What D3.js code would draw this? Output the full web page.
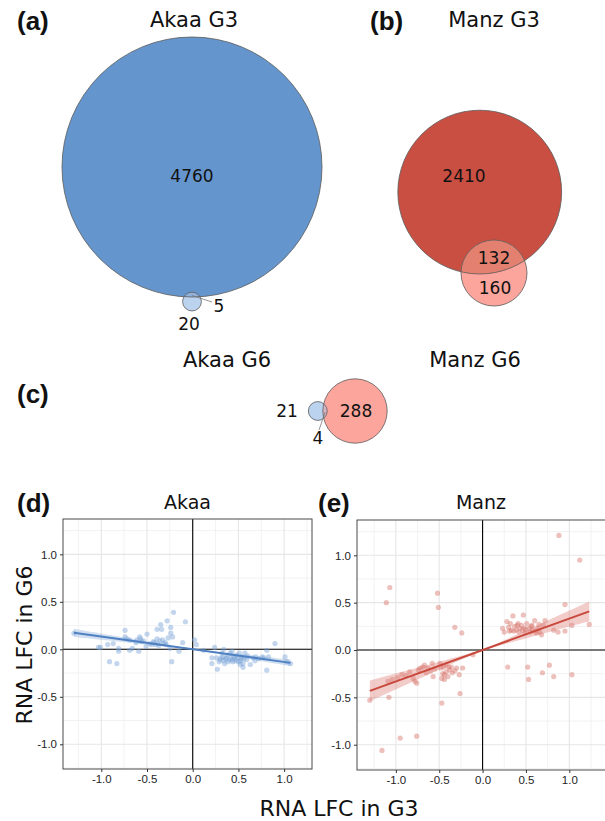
<!DOCTYPE html>
<html><head><meta charset="utf-8">
<script src="https://cdn.jsdelivr.net/npm/d3@7"></script>
<style>body{margin:0;background:#fff} svg{display:block}</style>
</head><body>
<svg id="chart" width="605" height="821"></svg>
<script>
// ---------------- DATA ----------------
// Venn counts: [first-only, overlap, second-only]
const vennA_labels = ["Akaa G3", "Akaa G6"];
const vennA_counts = [4760, 5, 20];
const vennB_labels = ["Manz G3", "Manz G6"];
const vennB_counts = [2410, 132, 160];
const vennC_labels = ["Akaa G6", "Manz G6"];
const vennC_counts = [21, 4, 288];

const panelLetters = ["(a)", "(b)", "(c)", "(d)", "(e)"];
const scatterTitles = ["Akaa", "Manz"];
const xAxisTitle = "RNA LFC in G3";
const yAxisTitle = "RNA LFC in G6";
const tickValues = [-1.0, -0.5, 0.0, 0.5, 1.0];
const minorValues = [-1.25, -0.75, -0.25, 0.25, 0.75, 1.25];

const akaaX = [-1.30,-1.03,-1.01,-0.93,-0.87,-0.91,-0.83,-0.81,-0.81,-0.74,-0.74,-0.72,-0.69,-0.69,-0.66,-0.61,-0.59,-0.58,-0.57,-0.56,-0.50,-0.51,-0.47,-0.45,-0.43,-0.41,-0.39,-0.39,-0.38,-0.37,-0.35,-0.34,-0.33,-0.32,-0.29,-0.28,-0.27,-0.25,-0.24,-0.24,-0.23,-0.22,-0.21,-0.15,-0.11,-0.08,0.02,0.04,0.12,0.21,0.21,0.24,0.26,0.27,0.29,0.31,0.32,0.34,0.34,0.35,0.37,0.38,0.40,0.41,0.42,0.43,0.44,0.45,0.46,0.48,0.50,0.51,0.52,0.53,0.54,0.55,0.55,0.57,0.59,0.63,0.66,0.68,0.69,0.72,0.76,0.78,0.81,0.81,0.83,0.90,1.01,1.03,1.07,0.30,0.36,0.39,0.43,0.47,0.49,0.52,0.56,0.60,0.33,-0.42,-0.36,-0.30,-0.62,-0.54];
const akaaY = [0.17,0.02,0.02,0.05,0.06,-0.13,-0.15,0.01,-0.02,0.20,0.13,0.11,0.10,-0.01,0.01,0.10,-0.02,0.13,0.11,0.08,0.16,0.03,0.06,0.05,0.08,0.05,0.11,0.21,0.06,0.04,0.26,0.21,0.10,0.06,0.05,0.30,0.12,0.01,0.17,0.23,-0.13,0.13,0.39,-0.02,0.07,0.29,0.10,0.05,-0.01,-0.09,-0.15,0.02,-0.09,-0.21,-0.13,-0.09,-0.04,0.00,-0.12,-0.15,-0.09,-0.06,-0.11,-0.04,-0.09,-0.02,-0.13,-0.08,-0.10,-0.06,-0.13,-0.04,-0.16,-0.10,-0.08,-0.15,-0.19,-0.04,-0.11,-0.16,-0.09,-0.12,-0.08,-0.10,-0.08,-0.09,-0.01,-0.22,-0.08,0.06,-0.08,-0.13,-0.15,-0.11,-0.10,-0.13,-0.11,-0.12,-0.09,-0.12,-0.10,-0.07,-0.08,0.07,0.09,0.07,0.07,0.09];

const manzX = [-1.30,-1.09,-1.08,-1.11,-1.07,-1.16,-0.95,-0.76,-1.04,-0.93,-0.84,-0.80,-0.78,-0.76,-0.74,-0.72,-0.69,-0.67,-0.63,-0.58,-0.57,-0.52,-0.51,-0.49,-0.48,-0.47,-0.47,-0.46,-0.45,-0.44,-0.44,-0.42,-0.42,-0.40,-0.38,-0.36,-0.32,-0.32,-0.30,-0.27,-0.26,-0.24,-0.23,-0.11,0.23,0.25,0.28,0.29,0.30,0.32,0.33,0.35,0.37,0.39,0.41,0.43,0.45,0.47,0.48,0.49,0.51,0.52,0.53,0.54,0.55,0.57,0.58,0.60,0.62,0.64,0.66,0.68,0.69,0.70,0.72,0.77,0.82,0.82,0.87,0.88,0.95,0.95,1.03,1.03,1.12,1.23,-0.55,-0.60,-0.65,-0.88,-0.98,0.36,0.42,0.46,0.50,0.56,0.61,0.65,0.40,0.31,-0.35,-0.39];
const manzY = [-0.53,-0.33,-0.50,0.50,0.66,-1.06,-0.93,-0.91,-0.31,-0.26,-0.23,-0.30,-0.33,-0.35,-0.21,-0.19,-0.18,-0.16,-0.19,-0.14,-0.28,0.60,0.45,-0.14,-0.19,-0.30,-0.56,-0.25,-0.18,-0.26,-0.31,-0.23,-0.16,-0.28,-0.21,-0.18,0.24,-0.22,-0.19,-0.26,-0.46,0.18,-0.19,-0.05,0.23,0.19,0.30,-0.18,0.24,0.28,0.21,0.36,0.25,0.21,0.28,0.23,0.26,0.37,0.23,0.18,0.28,-0.18,-0.31,0.23,0.19,0.26,0.21,0.31,0.18,0.23,0.19,0.16,-0.24,0.26,0.31,-0.16,0.21,-0.28,0.19,1.21,0.20,0.48,0.26,-0.26,0.95,0.27,-0.20,-0.22,-0.24,-0.27,-0.29,0.20,0.19,0.21,0.22,0.25,0.20,0.27,0.26,0.20,-0.24,-0.18];

// ---------------- SETUP ----------------
const svg = d3.select("#chart");
const FONT = "'DejaVu Sans', Verdana, sans-serif";
const BOLD = "'Liberation Sans', Arial, sans-serif";
const AXF = "'Liberation Sans', Arial, sans-serif";
const defs = svg.append("defs");

const letterPos = [[17, 30], [370, 30], [17, 403], [17, 512], [318, 512]];
panelLetters.forEach((t, i) => {
  svg.append("text").attr("x", letterPos[i][0]).attr("y", letterPos[i][1])
    .attr("font-family", BOLD).attr("font-weight", "bold").attr("font-size", 26)
    .attr("fill", "#111").text(t);
});

// ---------------- VENN ----------------
// area-proportional radius scale (panels a, c); panel b is drawn more compressed
const rScale = d3.scaleSqrt().domain([0, 4765]).range([0, 130]);
const rScaleB = d3.scalePow().exponent(0.42).domain([0, 292]).range([0, 33]);

function lensArea(r1, r2, d) {
  if (d >= r1 + r2) return 0;
  if (d <= Math.abs(r1 - r2)) return Math.PI * Math.min(r1, r2) ** 2;
  const a1 = r1 * r1 * Math.acos((d * d + r1 * r1 - r2 * r2) / (2 * d * r1));
  const a2 = r2 * r2 * Math.acos((d * d + r2 * r2 - r1 * r1) / (2 * d * r2));
  const k = 0.5 * Math.sqrt((-d + r1 + r2) * (d + r1 - r2) * (d - r1 + r2) * (d + r1 + r2));
  return a1 + a2 - k;
}
function solveDist(r1, r2, area) {
  let lo = Math.abs(r1 - r2), hi = r1 + r2;
  for (let i = 0; i < 60; i++) {
    const mid = (lo + hi) / 2;
    if (lensArea(r1, r2, mid) > area) lo = mid; else hi = mid;
  }
  return (lo + hi) / 2;
}

let clipId = 0;
function drawVenn(counts, scale, c1, angleDeg, fills, anchorSecond) {
  const r1 = scale(counts[0] + counts[1]);
  const r2 = scale(counts[2] + counts[1]);
  // overlap as the same fraction of the second (smaller) set's disc
  const area = counts[1] / (counts[2] + counts[1]) * Math.PI * r2 * r2;
  const d = solveDist(r1, r2, area);
  const a = angleDeg * Math.PI / 180;
  let p1, p2;
  if (anchorSecond) { p2 = c1; p1 = [p2[0] - d * Math.cos(a), p2[1] - d * Math.sin(a)]; }
  else { p1 = c1; p2 = [p1[0] + d * Math.cos(a), p1[1] + d * Math.sin(a)]; }
  const g = svg.append("g");
  g.append("circle").attr("cx", p1[0]).attr("cy", p1[1]).attr("r", r1).attr("fill", fills[0]);
  g.append("circle").attr("cx", p2[0]).attr("cy", p2[1]).attr("r", r2).attr("fill", fills[1]);
  const id = "vclip" + (clipId++);
  defs.append("clipPath").attr("id", id).append("circle").attr("cx", p1[0]).attr("cy", p1[1]).attr("r", r1);
  g.append("circle").attr("cx", p2[0]).attr("cy", p2[1]).attr("r", r2).attr("fill", fills[2])
    .attr("clip-path", `url(#${id})`);
  [[p1, r1], [p2, r2]].forEach(([p, r]) => g.append("circle").attr("cx", p[0]).attr("cy", p[1]).attr("r", r)
    .attr("fill", "none").attr("stroke", "#5a5a5a").attr("stroke-width", 0.8));
  return { p1, p2, r1, r2, d };
}
function vText(x, y, t, size) {
  svg.append("text").attr("x", x).attr("y", y).attr("text-anchor", "middle")
    .attr("dominant-baseline", "central").attr("font-family", FONT)
    .attr("font-size", size || 17).attr("fill", "#111").text(t);
}
function leader(x1, y1, x2, y2) {
  svg.append("line").attr("x1", x1).attr("y1", y1).attr("x2", x2).attr("y2", y2)
    .attr("stroke", "#777").attr("stroke-width", 0.8);
}
function title(x, y, t) {
  svg.append("text").attr("x", x).attr("y", y).attr("text-anchor", "middle").attr("font-family", FONT)
    .attr("font-size", 21).attr("fill", "#111").text(t);
}

// (a)
const va = drawVenn(vennA_counts, rScale, [192, 167], 90, ["#6595cd", "#bcd3ef", "#8fb1dc"], false);
title(194, 27, vennA_labels[0]);
vText(192, 176, vennA_counts[0]);
vText(189, 324, vennA_counts[2]);
leader(va.p2[0], va.p2[1] - 6, 212, 302);
vText(219, 306, vennA_counts[1]);

// (b)
const vb = drawVenn(vennB_counts, rScaleB, [494, 273], 80, ["#c94f43", "#fca59c", "#e3806f"], true);
title(494, 27, vennB_labels[0]);
vText(464, 176, vennB_counts[0]);
vText(494, 258, vennB_counts[1]);
vText(495, 288, vennB_counts[2]);

// (c)
title(227, 367, vennA_labels[1]);
title(475, 367, vennB_labels[1]);
const vc = drawVenn([vennC_counts[2], vennC_counts[1], vennC_counts[0]], rScale, [355, 411], 180, ["#fca59c", "#bcd3ef", "#d9b4c4"], false);
vText(287, 411, vennC_counts[0]);
vText(356, 411, vennC_counts[2]);
leader(vc.p2[0] + vc.r2 - 2, 412, 319, 430);
vText(318, 438, vennC_counts[1]);

// ---------------- SCATTER ----------------
function drawScatter(opts) {
  const { xs, ys, xDom, yDom, left, right, top, bottom, title, ptColor, lineColor, bandColor, bandOpacity, ptOpacity } = opts;
  const x = d3.scaleLinear().domain(xDom).range([left, right]);
  const y = d3.scaleLinear().domain(yDom).range([bottom, top]);
  const g = svg.append("g");
  const id = "pclip" + (clipId++);
  defs.append("clipPath").attr("id", id).append("rect").attr("x", left).attr("y", top)
    .attr("width", right - left).attr("height", bottom - top);
  const inner = g.append("g").attr("clip-path", `url(#${id})`);
  minorValues.forEach(v => {
    inner.append("line").attr("x1", x(v)).attr("x2", x(v)).attr("y1", top).attr("y2", bottom).attr("stroke", "#f0f0f0").attr("stroke-width", 0.9);
    inner.append("line").attr("y1", y(v)).attr("y2", y(v)).attr("x1", left).attr("x2", right).attr("stroke", "#f0f0f0").attr("stroke-width", 0.9);
  });
  tickValues.forEach(v => {
    inner.append("line").attr("x1", x(v)).attr("x2", x(v)).attr("y1", top).attr("y2", bottom).attr("stroke", "#e6e6e6").attr("stroke-width", 1.1);
    inner.append("line").attr("y1", y(v)).attr("y2", y(v)).attr("x1", left).attr("x2", right).attr("stroke", "#e6e6e6").attr("stroke-width", 1.1);
  });
  inner.append("line").attr("x1", x(0)).attr("x2", x(0)).attr("y1", top).attr("y2", bottom).attr("stroke", "#000").attr("stroke-width", 1.1);
  inner.append("line").attr("y1", y(0)).attr("y2", y(0)).attr("x1", left).attr("x2", right).attr("stroke", "#000").attr("stroke-width", 1.1);
  const pts = xs.map((v, i) => [v, ys[i]]);
  inner.selectAll("circle.pt").data(pts).join("circle").attr("class", "pt")
    .attr("cx", d => x(d[0])).attr("cy", d => y(d[1])).attr("r", 2.6)
    .attr("fill", ptColor).attr("fill-opacity", ptOpacity);
  // regression through origin with 95% CI
  const sxx = d3.sum(xs, v => v * v);
  const sxy = d3.sum(pts, p => p[0] * p[1]);
  const b = sxy / sxx;
  const n = xs.length;
  const s2 = d3.sum(pts, p => (p[1] - b * p[0]) ** 2) / (n - 1);
  const se = Math.sqrt(s2 / sxx);
  const t = 1.98;
  const [xmin, xmax] = d3.extent(xs);
  const grid = d3.range(0, 81).map(i => xmin + (xmax - xmin) * i / 80);
  inner.append("path").datum(grid)
    .attr("d", d3.area().x(v => x(v)).y0(v => y(b * v - t * se * Math.abs(v))).y1(v => y(b * v + t * se * Math.abs(v))))
    .attr("fill", bandColor).attr("fill-opacity", bandOpacity);
  inner.append("line").attr("x1", x(xmin)).attr("y1", y(b * xmin)).attr("x2", x(xmax)).attr("y2", y(b * xmax))
    .attr("stroke", lineColor).attr("stroke-width", 2);
  g.append("rect").attr("x", left).attr("y", top).attr("width", right - left).attr("height", bottom - top)
    .attr("fill", "none").attr("stroke", "#4a4a4a").attr("stroke-width", 1);
  const fmt = d3.format(".1f");
  const ax = g.append("g").attr("transform", `translate(0,${bottom})`)
    .call(d3.axisBottom(x).tickValues(tickValues).tickFormat(v => fmt(v).replace("−", "-")).tickSize(3).tickPadding(3));
  const ay = g.append("g").attr("transform", `translate(${left},0)`)
    .call(d3.axisLeft(y).tickValues(tickValues).tickFormat(v => fmt(v).replace("−", "-")).tickSize(3).tickPadding(3));
  [ax, ay].forEach(a => {
    a.select(".domain").remove();
    a.selectAll(".tick line").attr("stroke", "#333");
    a.selectAll(".tick text").attr("font-family", AXF).attr("font-size", 11.5).attr("fill", "#1e1e1e");
  });
  svg.append("text").attr("x", (left + Math.min(right, 605)) / 2).attr("y", 509).attr("text-anchor", "middle")
    .attr("font-family", FONT).attr("font-size", 19).attr("fill", "#111").text(title);
}

drawScatter({ xs: akaaX, ys: akaaY, xDom: [-1.419, 1.305], yDom: [-1.26, 1.372], left: 63, right: 312, top: 519, bottom: 769,
  title: scatterTitles[0], ptColor: "#7ba3d6", ptOpacity: 0.45, lineColor: "#4f80c2", bandColor: "#7ba3d6", bandOpacity: 0.35 });
drawScatter({ xs: manzX, ys: manzY, xDom: [-1.448, 1.423], yDom: [-1.267, 1.373], left: 357, right: 606, top: 520, bottom: 770,
  title: scatterTitles[1], ptColor: "#d8736b", ptOpacity: 0.45, lineColor: "#c8483c", bandColor: "#df7f77", bandOpacity: 0.4 });

svg.append("text").attr("x", 339).attr("y", 816).attr("text-anchor", "middle").attr("font-family", FONT)
  .attr("font-size", 22).attr("fill", "#111").text(xAxisTitle);
svg.append("text").attr("transform", "translate(32,645) rotate(-90)").attr("text-anchor", "middle")
  .attr("font-family", FONT).attr("font-size", 22).attr("fill", "#111").text(yAxisTitle);
</script>
</body></html>
